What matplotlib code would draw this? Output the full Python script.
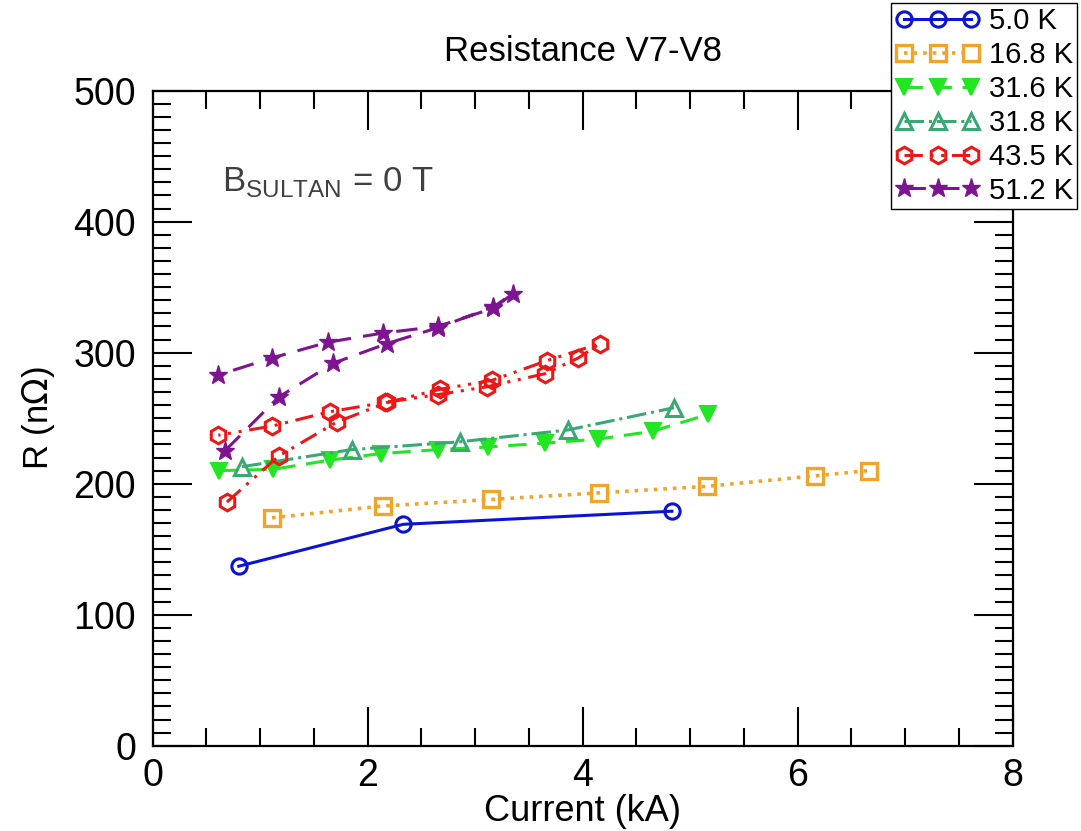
import matplotlib
matplotlib.use("Agg")
import matplotlib.pyplot as plt
from matplotlib.ticker import MultipleLocator

plt.rcParams['font.family'] = ['Liberation Sans', 'DejaVu Sans']

# %% data (current in kA, resistance in nOhm)
labels = ['5.0 K', '16.8 K', '31.6 K', '31.8 K', '43.5 K', '51.2 K']

i_5k = [0.80, 2.33, 4.83]
r_5k = [137, 169, 179]

i_168k = [1.11, 2.14, 3.15, 4.15, 5.16, 6.16, 6.66]
r_168k = [174, 183, 188, 193, 198, 206, 210]

i_316k = [0.62, 1.12, 1.65, 2.12, 2.65, 3.12, 3.65, 4.14, 4.65, 5.17]
r_316k = [210, 211, 218, 223, 226, 228, 231, 234, 240, 253]

i_318k = [0.83, 1.85, 2.86, 3.86, 4.85]
r_318k = [213, 226, 232, 241, 258]

i_435k = [0.69, 1.17, 1.71, 2.18, 2.67, 3.16, 3.67, 4.16, 3.96, 3.65, 3.11, 2.65, 2.16, 1.65, 1.11, 0.61]
r_435k = [186, 221, 247, 262, 272, 279, 294, 307, 296, 284, 274, 268, 262, 255, 244, 237]

i_512k = [0.67, 1.17, 1.68, 2.18, 2.65, 3.17, 3.35, 3.17, 2.65, 2.14, 1.63, 1.11, 0.61]
r_512k = [225, 266, 292, 307, 319, 335, 345, 334, 320, 315, 308, 296, 283]

# %% plot
fig = plt.figure(figsize=(10.81, 8.31), dpi=100)
ax = fig.add_axes([0.1413, 0.1026, 0.7955, 0.7883])

lw = 2.2
ax.plot(i_5k, r_5k, color='#0a14d2', ls='-', lw=lw, marker='o', ms=11, mfc='none', mew=2.2, label=labels[0])
ax.plot(i_168k, r_168k, color='#f0a52a', ls=':', lw=lw + 0.4, marker='s', ms=11, mfc='none', mew=2.4, label=labels[1])
ax.plot(i_316k, r_316k, color='#22e622', ls=(0, (6, 3.5)), lw=lw, marker='v', ms=11, mfc='#22e622', mew=1.5, label=labels[2])
ax.plot(i_318k, r_318k, color='#3aa872', ls='-.', lw=lw, marker='^', ms=11, mfc='none', mew=2.2, label=labels[3])
ax.plot(i_435k, r_435k, color='#ec1818', ls=(0, (6, 2.5, 1, 2.5, 1, 2.5)), lw=lw, marker='h', ms=12, mfc='none', mew=2.2, label=labels[4])
ax.plot(i_512k, r_512k, color='#7d1590', ls=(0, (7, 4)), lw=lw, marker='*', ms=14, mfc='#7d1590', mew=1, label=labels[5])

ax.set_xlim(0, 8)
ax.set_ylim(0, 500)
ax.xaxis.set_major_locator(MultipleLocator(2))
ax.xaxis.set_minor_locator(MultipleLocator(0.5))
ax.yaxis.set_major_locator(MultipleLocator(100))
ax.yaxis.set_minor_locator(MultipleLocator(10))
ax.tick_params(which='both', direction='in', top=True, right=True, labelsize=27, width=1.5)
ax.tick_params(axis='y', pad=12)
ax.tick_params(axis='x', pad=9)
ax.tick_params(which='major', length=28)
ax.tick_params(which='minor', length=13)
for s in ax.spines.values():
    s.set_linewidth(1.6)

ax.set_xlabel('Current (kA)', fontsize=26, labelpad=0)
ax.set_ylabel(r'R (n$\Omega$)', fontsize=25, labelpad=12)
ax.set_title('Resistance V7-V8', fontsize=25, pad=21)

ax.text(0.64, 430, r'B$_{\mathregular{SULTAN}}$ = 0 T', fontsize=25, color='#404040', va='center')

fig.legend(loc='upper left', bbox_to_anchor=(891 / 1081, 1 - 3 / 831), borderaxespad=0,
           fontsize=21, numpoints=3, handlelength=2.9, handletextpad=0.3, labelspacing=0.2,
           frameon=True, fancybox=False, edgecolor='black', framealpha=1, borderpad=0.15)

fig.savefig('out.png', dpi=100)
